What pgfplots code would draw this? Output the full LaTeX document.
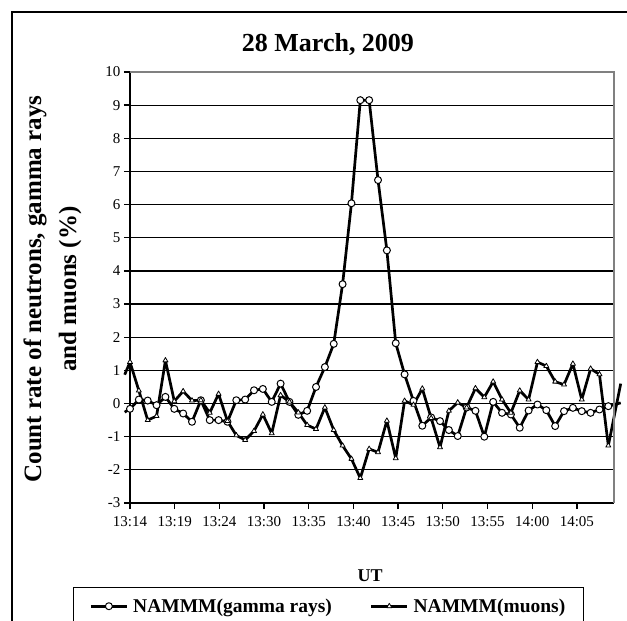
\documentclass[border=0pt]{standalone}
\usepackage{fontspec}
\setmainfont{Liberation Serif}
\usepackage{pgfplots}
\usepackage{pgfplotstable}
\pgfplotsset{compat=1.18}

\pgfplotstableread{
idx gamma muon
0 -0.16 1.25
1 0.12 0.39
2 0.09 -0.50
3 -0.05 -0.38
4 0.20 1.30
5 -0.16 0.07
6 -0.30 0.37
7 -0.55 0.09
8 0.10 0.10
9 -0.50 -0.28
10 -0.50 0.29
11 -0.55 -0.53
12 0.10 -0.96
13 0.12 -1.10
14 0.40 -0.83
15 0.44 -0.33
16 0.05 -0.90
17 0.60 0.25
18 0.05 0.05
19 -0.34 -0.27
20 -0.22 -0.65
21 0.50 -0.77
22 1.10 -0.12
23 1.80 -0.80
24 3.60 -1.27
25 6.04 -1.67
26 9.15 -2.25
27 9.15 -1.37
28 6.74 -1.47
29 4.62 -0.52
30 1.82 -1.65
31 0.88 0.08
32 0.08 -0.04
33 -0.67 0.45
34 -0.42 -0.44
35 -0.53 -1.32
36 -0.80 -0.22
37 -0.98 0.03
38 -0.12 -0.12
39 -0.22 0.46
40 -1.00 0.19
41 0.05 0.66
42 -0.28 0.12
43 -0.33 -0.28
44 -0.73 0.39
45 -0.21 0.12
46 -0.03 1.25
47 -0.20 1.13
48 -0.68 0.66
49 -0.23 0.57
50 -0.13 1.20
51 -0.23 0.12
52 -0.28 1.05
53 -0.18 0.88
54 -0.08 -1.27
}\datatable

\begin{document}
\begin{tikzpicture}
\path[use as bounding box] (-130pt,-118pt) rectangle (497pt,503pt);
\clip (-130pt,-118pt) rectangle (497pt,503pt);
% outer chart-area frame (continues beyond the cropped picture)
\draw[black, line width=1.5pt] (-118pt,-118pt) -- (-118pt,491pt) -- (497pt,491pt);
\begin{axis}[
  at={(0pt,0pt)}, anchor=south west,
  width=484pt, height=431pt, scale only axis,
  xmin=0, xmax=54.64, ymin=-3, ymax=10,
  clip=false,
  axis lines*=left,
  axis line style={black, line width=1.3pt},
  tick align=outside,
  major tick length=6pt,
  tick style={black, line width=1.3pt},
  xtick={0,5.045,10.09,15.135,20.18,25.225,30.27,35.315,40.36,45.405,50.45},
  xticklabels={13:14,13:19,13:24,13:30,13:35,13:40,13:45,13:50,13:55,14:00,14:05},
  ytick={-3,-2,-1,0,1,2,3,4,5,6,7,8,9,10},
  yticklabels={-3,-2,-1,0,1,2,3,4,5,6,7,8,9,10},
  ticklabel style={font=\fontsize{15}{18}\selectfont},
  xticklabel style={yshift=-4pt},
  ymajorgrids,
  grid style={black, line width=1.2pt},
  title={28 March, 2009},
  title style={at={(axis description cs:0.409,1.051)}, anchor=center,
    font=\fontsize{26}{30}\selectfont\bfseries},
  ylabel={Count rate of neutrons, gamma rays\\and muons (\%)},
  ylabel style={at={(axis description cs:-0.160,0.4965)}, anchor=center,
    align=center, font=\fontsize{25}{35}\selectfont\bfseries},
  xlabel={UT},
  xlabel style={at={(axis description cs:0.496,-0.169)}, anchor=center,
    font=\fontsize{18}{21}\selectfont\bfseries},
  legend columns=2,
  legend style={at={(axis description cs:-0.118,-0.195)}, anchor=north west,
    draw=black, line width=1.3pt, fill=white,
    font=\fontsize{19.5}{22}\selectfont\bfseries,
    inner xsep=16pt, inner ysep=9pt,
    /tikz/every odd column/.append style={column sep=3pt},
    /tikz/every even column/.append style={column sep=36pt}},
  legend image code/.code={
    \draw[mark repeat=2,mark phase=2,#1] plot coordinates {(0pt,0pt) (18pt,0pt) (36pt,0pt)};
  },
]
\addplot[black, line width=2.7pt, line join=round, mark=*, mark size=3.5pt,
  mark options={fill=white, draw=black, line width=1pt, solid}]
  table[x=idx, y=gamma] {\datatable};
\addlegendentry{NAMMM(gamma rays)}
\addplot[black, line width=2.7pt, line join=round, mark=triangle*, mark size=2.9pt,
  mark options={fill=white, draw=black, line width=0.8pt, solid}]
  table[x=idx, y=muon] {\datatable};
\addlegendentry{NAMMM(muons)}
% short line continuations beyond the axis ends
\addplot[forget plot, black, line width=2.7pt, line join=round] coordinates {(-0.6,-0.26) (0,-0.16)};
\addplot[forget plot, black, line width=2.7pt, line join=round] coordinates {(54,-0.08) (55.4,0.02)};
\addplot[forget plot, black, line width=2.7pt, line join=round] coordinates {(-0.6,0.87) (0,1.25)};
\addplot[forget plot, black, line width=2.7pt, line join=round] coordinates {(54,-1.27) (55.4,0.60)};
% plot-area border (top and right, grey)
\draw[black!50, line width=1.3pt] (rel axis cs:0,1) -- (rel axis cs:1,1) -- (rel axis cs:1,0);
\end{axis}
\end{tikzpicture}
\end{document}
